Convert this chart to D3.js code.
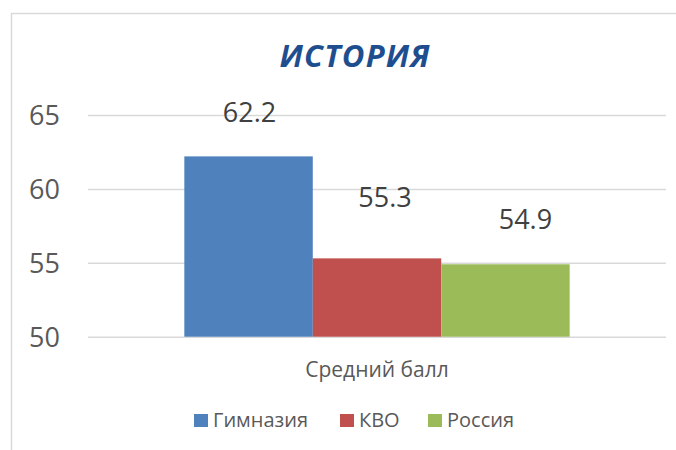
<!DOCTYPE html>
<html><head><meta charset="utf-8">
<script src="https://cdn.jsdelivr.net/npm/d3@7"></script>
<style>html,body{margin:0;padding:0;background:#fff;}svg{display:block;}</style>
</head><body>
<script>
const title = "ИСТОРИЯ";
const categories = ["Средний балл"];
const seriesNames = ["Гимназия", "КВО", "Россия"];
const seriesValues = [62.2, 55.3, 54.9];
const tickValues = [50, 55, 60, 65];
const seriesColors = ["#4F81BD", "#C0504D", "#9BBB59"];
const labelShift = [[1, -34], [8, -51], [20, -35]];

const W = 676, H = 450;
const svg = d3.select("body").append("svg").attr("width", W).attr("height", H);
const font = "'Open Sans', 'Segoe UI', sans-serif";

// frame
svg.append("line").attr("x1", 11).attr("x2", W).attr("y1", 13.5).attr("y2", 13.5).attr("stroke", "#d9d9d9").attr("stroke-width", 1.5);
svg.append("line").attr("x1", 11.5).attr("x2", 11.5).attr("y1", 13).attr("y2", H).attr("stroke", "#d9d9d9").attr("stroke-width", 1.5);

const y = d3.scaleLinear().domain([50, 65]).range([336.7, 115]);
const x0 = d3.scaleBand().domain(categories).range([88, 666]).paddingInner(0).paddingOuter(0.25);
const x1 = d3.scaleBand().domain(seriesNames).range([0, x0.bandwidth()]).padding(0);

// gridlines
const yAxis = d3.axisLeft(y).tickValues(tickValues).tickSize(-(666 - 88)).tickFormat(d3.format("d")).tickPadding(28);
const gy = svg.append("g").attr("transform", "translate(88,0)").call(yAxis);
gy.select(".domain").remove();
gy.selectAll(".tick line").attr("stroke", "#d9d9d9").attr("stroke-width", 1.5);
gy.selectAll(".tick text").attr("fill", "#595959").attr("font-family", font).attr("font-size", 27).attr("dy", "0.35em");

// bars
const g = svg.append("g");
categories.forEach(cat => {
  seriesNames.forEach((s, i) => {
    g.append("rect")
      .attr("x", x0(cat) + x1(s))
      .attr("y", y(seriesValues[i]))
      .attr("width", x1.bandwidth())
      .attr("height", y(50) - y(seriesValues[i]))
      .attr("fill", seriesColors[i]);
    g.append("text")
      .attr("x", x0(cat) + x1(s) + x1.bandwidth() / 2 + labelShift[i][0])
      .attr("y", y(seriesValues[i]) + labelShift[i][1])
      .attr("text-anchor", "middle")
      .attr("font-family", font).attr("font-size", 27).attr("fill", "#404040")
      .text(d3.format(".1f")(seriesValues[i]));
  });
});

// category label
svg.append("text").attr("x", x0(categories[0]) + x0.bandwidth() / 2).attr("y", 377)
  .attr("text-anchor", "middle").attr("font-family", font).attr("font-size", 21).attr("fill", "#595959")
  .text(categories[0]);

// title
svg.append("text").attr("x", 355).attr("y", 67).attr("text-anchor", "middle")
  .attr("font-family", font).attr("font-size", 31).attr("font-weight", "bold").attr("font-style", "italic")
  .attr("letter-spacing", 1.2)
  .attr("fill", "#1F4E8F").text(title);

// legend
const legendX = [194, 340, 428];
seriesNames.forEach((s, i) => {
  const lg = svg.append("g").attr("transform", `translate(${legendX[i]},0)`);
  lg.append("rect").attr("x", 0).attr("y", 414).attr("width", 14).attr("height", 13).attr("fill", seriesColors[i]);
  lg.append("text").attr("x", 19).attr("y", 427).attr("font-family", font).attr("font-size", 20).attr("fill", "#595959").text(s);
});
</script>
</body></html>
